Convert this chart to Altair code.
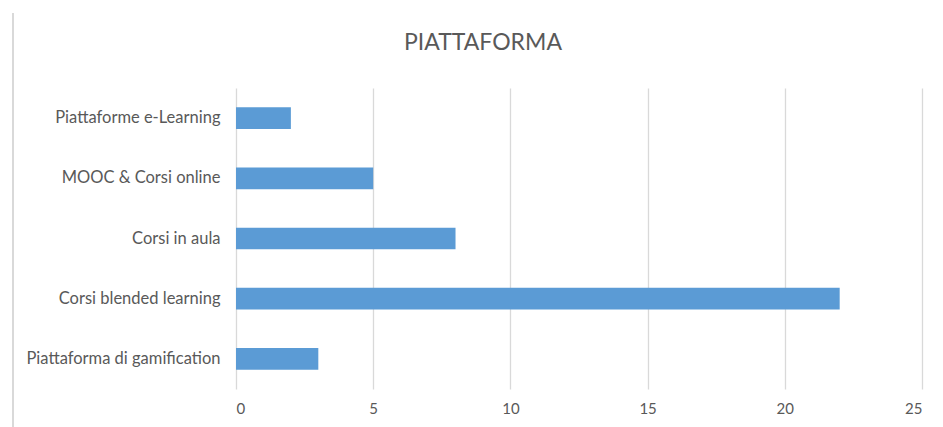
import altair as alt
import pandas as pd

categories = ["Piattaforme e-Learning", "MOOC & Corsi online", "Corsi in aula",
              "Corsi blended learning", "Piattaforma di gamification"]
values = [2, 5, 8, 22, 3]
x_ticks = [0, 5, 10, 15, 20, 25]

df = pd.DataFrame({"cat": categories, "val": values})

FONT = "Lato"
TXT = "#595959"

bars = alt.Chart(df).mark_bar(color="#5B9BD5").encode(
    x=alt.X("val:Q", scale=alt.Scale(domain=[0, 25], nice=False),
            axis=alt.Axis(values=x_ticks, title=None, grid=True, gridColor="#d9d9d9",
                          gridWidth=1.3, domain=False, ticks=False, labelPadding=12,
                          labelFontSize=15, labelColor=TXT, labelFont=FONT)),
    y=alt.Y("cat:N", sort=categories,
            scale=alt.Scale(paddingInner=0.64, paddingOuter=0.32),
            axis=alt.Axis(title=None, domain=False, ticks=False, labelPadding=16,
                          labelLimit=400, labelFontSize=16.5, labelColor=TXT,
                          labelFont=FONT)),
)

border = alt.Chart(df).mark_rule(color="#d9d9d9", strokeWidth=2).encode(
    x=alt.value(-223), y=alt.value(-75), y2=alt.value(345)
)

chart = alt.layer(border, bars).properties(
    width=686, height=301,
    autosize=alt.AutoSizeParams(type="none"),
    padding={"left": 236, "top": 88, "right": 21, "bottom": 38},
    title=alt.TitleParams("PIATTAFORMA", font=FONT, fontSize=23, fontWeight="normal",
                          color=TXT, anchor="middle", dx=-96, offset=-43),
).configure(background="white").configure_view(stroke=None)

chart.save("out.html", embed_options={"renderer": "svg", "actions": False})
